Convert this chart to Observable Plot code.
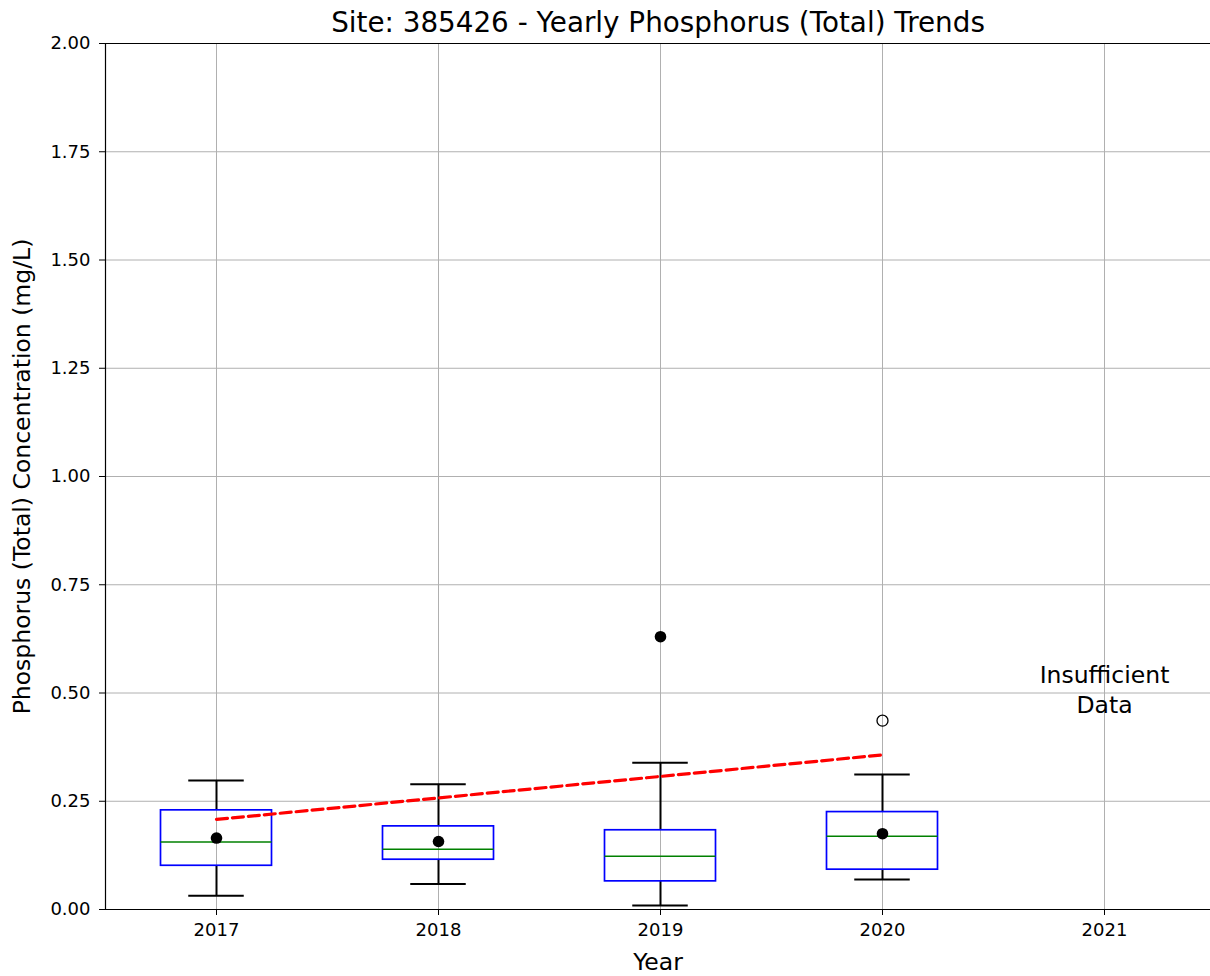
<!DOCTYPE html>
<html>
<head>
<meta charset="utf-8">
<script src="https://cdn.jsdelivr.net/npm/d3@7"></script>
<script src="https://cdn.jsdelivr.net/npm/@observablehq/plot@0.6"></script>
<style>
  html, body { margin: 0; padding: 0; background: #fff; overflow: hidden; }
  #chart svg { display: block; }
</style>
</head>
<body>
<div id="chart"></div>
<script>
// ---- Data ----
const years = [2017, 2018, 2019, 2020];
const whiskerLow = [0.032, 0.059, 0.009, 0.069];
const q1 = [0.101, 0.115, 0.065, 0.092];
const median = [0.156, 0.139, 0.123, 0.169];
const q3 = [0.229, 0.192, 0.183, 0.225];
const whiskerHigh = [0.298, 0.289, 0.339, 0.312];
const means = [0.165, 0.157, 0.630, 0.175];
const flierYears = [2020];
const flierValues = [0.436];
const trendYears = [2017, 2020];
const trendValues = [0.208, 0.357];
const xTickYears = [2017, 2018, 2019, 2020, 2021];
const yTicks = [0, 0.25, 0.5, 0.75, 1.0, 1.25, 1.5, 1.75, 2.0];
const noteYear = [2021];
const noteValue = [0.5];
const noteText = ["Insufficient\nData"];
const titleText = "Site: 385426 - Yearly Phosphorus (Total) Trends";
const xLabel = "Year";
const yLabel = "Phosphorus (Total) Concentration (mg/L)";

// ---- Tables built from the arrays ----
const boxes = years.map((y, i) => ({
  year: y, lo: whiskerLow[i], q1: q1[i], med: median[i], q3: q3[i], hi: whiskerHigh[i], mean: means[i]
}));
const fliers = flierYears.map((y, i) => ({year: y, value: flierValues[i]}));
const trend = trendYears.map((y, i) => ({year: y, value: trendValues[i]}));
const notes = noteYear.map((y, i) => ({year: y, value: noteValue[i], text: noteText[i]}));

const BOX_HALF = 0.25, CAP_HALF = 0.125;
const font = "DejaVu Sans";

const chart = Plot.plot({
  width: 1210,
  height: 976,
  marginLeft: 105,
  marginRight: 0,
  marginTop: 43,
  marginBottom: 67,
  style: {fontFamily: font, background: "#fff", color: "#000"},
  x: {type: "linear", domain: [2016.5, 2021.5], range: [105, 1215]},
  y: {domain: [0, 2]},
  marks: [
    Plot.gridY(yTicks, {stroke: "#b0b0b0", strokeOpacity: 1, strokeWidth: 1}),
    Plot.gridX(xTickYears, {stroke: "#b0b0b0", strokeOpacity: 1, strokeWidth: 1}),
    // spines
    Plot.ruleY([0], {stroke: "#000", strokeWidth: 1.2}),
    Plot.ruleY([2], {stroke: "#000", strokeWidth: 1.2}),
    Plot.ruleX([2016.5], {stroke: "#000", strokeWidth: 1.2}),
    // axes
    Plot.axisY({ticks: yTicks, tickFormat: d3.format(".2f"), tickSize: 6, tickPadding: 9, fontSize: 18, label: null, stroke: "#000"}),
    Plot.axisX({ticks: xTickYears, tickFormat: d => String(d), tickSize: 6, tickPadding: 7.5, fontSize: 18, label: null, stroke: "#000"}),
    // whiskers
    Plot.ruleX(boxes, {x: "year", y1: "lo", y2: "q1", stroke: "#000", strokeWidth: 2}),
    Plot.ruleX(boxes, {x: "year", y1: "q3", y2: "hi", stroke: "#000", strokeWidth: 2}),
    // caps
    Plot.ruleY(boxes, {y: "lo", x1: d => d.year - CAP_HALF, x2: d => d.year + CAP_HALF, stroke: "#000", strokeWidth: 2}),
    Plot.ruleY(boxes, {y: "hi", x1: d => d.year - CAP_HALF, x2: d => d.year + CAP_HALF, stroke: "#000", strokeWidth: 2}),
    // boxes
    Plot.rect(boxes, {x1: d => d.year - BOX_HALF, x2: d => d.year + BOX_HALF, y1: "q1", y2: "q3", fill: "none", stroke: "#0000ff", strokeWidth: 1.7}),
    // medians
    Plot.ruleY(boxes, {y: "med", x1: d => d.year - BOX_HALF, x2: d => d.year + BOX_HALF, stroke: "#008000", strokeWidth: 1.6}),
    // fliers
    Plot.dot(fliers, {x: "year", y: "value", r: 5.5, stroke: "#000", strokeWidth: 1.3, fill: "none"}),
    // means
    Plot.dot(boxes, {x: "year", y: "mean", r: 5.8, fill: "#000", stroke: "none"}),
    // trend
    Plot.line(trend, {x: "year", y: "value", stroke: "#ff0000", strokeWidth: 3.2, strokeDasharray: "11,5"}),
    // note
    Plot.text(notes, {x: "year", y: "value", text: "text", fontSize: 23.5, lineHeight: 1.28, dy: -5, fill: "#000"}),
    // title and labels
    Plot.text([titleText], {frameAnchor: "top", dy: -31, fontSize: 27.8, fill: "#000"}),
    Plot.text([xLabel], {frameAnchor: "bottom", dy: 60, fontSize: 23.5, fill: "#000"}),
    Plot.text([yLabel], {frameAnchor: "left", textAnchor: "middle", dx: -83, rotate: -90, fontSize: 23.5, fill: "#000"})
  ]
});
document.getElementById("chart").appendChild(chart);
</script>
</body>
</html>
